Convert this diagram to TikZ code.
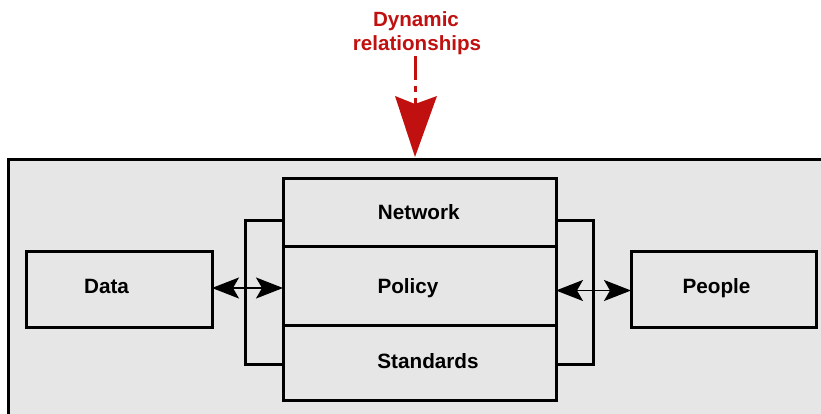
\documentclass[tikz,border=0pt]{standalone}
\usepackage{fontspec}
\setmainfont{Liberation Sans}
\usetikzlibrary{arrows.meta}
\definecolor{panel}{RGB}{230,230,230}
\definecolor{dynred}{RGB}{192,16,16}
\tikzset{
  box/.style={draw=black, line width=3pt, fill=panel, rectangle, inner sep=0pt, outer sep=0pt},
  lbl/.style={anchor=base, inner sep=0pt, font=\fontsize{20.7}{24}\selectfont\bfseries},
  bracket/.style={draw=black, line width=3pt, line join=miter},
  dbl/.style={line width=1.6pt, {Stealth[length=27pt,width=21pt,inset=6pt]}-{Stealth[length=27pt,width=21pt,inset=6pt]}},
  redtext/.style={text=dynred, align=center, inner sep=0pt, font=\fontsize{20.6}{23.5}\selectfont\bfseries},
}
\begin{document}
\begin{tikzpicture}[x=1pt,y=-1pt]
\useasboundingbox (0,0) rectangle (821,414);
\clip (0,0) rectangle (821,414);
% outer panel
\draw[line width=3pt, fill=panel] (8,160) rectangle (840,440);
% brackets
\coordinate (lbt) at (283,220); \coordinate (lbb) at (283,364);
\coordinate (rbt) at (556,220); \coordinate (rbb) at (556,364);
\draw[bracket] (lbt) -- (245,220) -- (245,364) -- (lbb);
\draw[bracket] (rbt) -- (593,220) -- (593,364) -- (rbb);
% boxes
\node[box, minimum width=186pt, minimum height=76pt] (Data) at (119,289) {};
\node[box, minimum width=185pt, minimum height=76pt] (People) at (723.5,289) {};
\node[box, minimum width=273pt, minimum height=67pt] (Network) at (419.5,212.5) {};
\node[box, minimum width=273pt, minimum height=79pt] (Policy) at (419.5,285.5) {};
\node[box, minimum width=273pt, minimum height=75pt] (Standards) at (419.5,362.5) {};
% labels
\node[lbl] (DataT) at (106.5,293) {Data};
\node[lbl] (PeopleT) at (716.5,293) {People};
\node[lbl] (NetworkT) at (418.8,219.3) {Network};
\node[lbl] (PolicyT) at (408,293) {Policy};
\node[lbl] (StandardsT) at (428,368) {Standards};
% connectors
\draw[dbl] (Data.east |- 0,288) -- (Policy.west |- 0,288);
\draw[dbl] (Policy.east |- 0,290.5) -- (People.west |- 0,290.5);
% dynamic relationships
\node[redtext, anchor=base] (Dyn) at (416,27) {Dynamic};
\node[redtext, anchor=base] (Rel) at (417,50.5) {relationships};
\coordinate (dtail) at (415,56);
\coordinate (dtip) at (415,157);
\draw[dynred, line width=3pt, dash pattern=on 24pt off 6pt on 6pt off 6pt] (dtail) -- (415,104);
\fill[dynred] (dtip) -- (395,96) -- (415,104) -- (437,96) -- cycle;
\end{tikzpicture}
\end{document}
